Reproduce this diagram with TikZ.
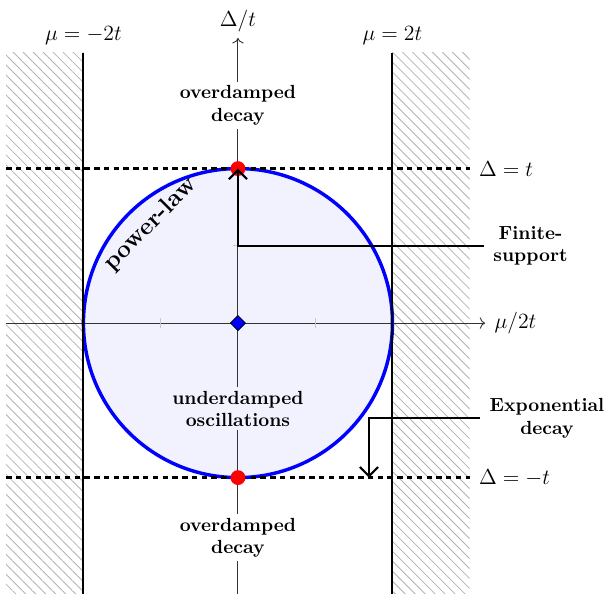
\documentclass[tikz,border=0pt]{standalone}
\usetikzlibrary{patterns.meta,arrows.meta,shapes.geometric}
\begin{document}
\begin{tikzpicture}[x=3cm,y=3cm,
  hatch/.style={pattern={Lines[angle=-45,distance=3.9pt,line width=0.45pt]}, pattern color=gray!60},
  wall/.style={line width=1.1pt},
  level/.style={line width=2pt, dash pattern=on 3pt off 2.4pt},
  axis/.style={black!80, line width=0.5pt, -{To[length=3pt]}},
  tickmark/.style={gray!45, line width=0.7pt},
  regime/.style={font=\fontsize{10.5}{12.5}\selectfont\bfseries, align=center, inner sep=2pt},
  side/.style={font=\fontsize{10.5}{12.5}\selectfont\bfseries, align=center, inner xsep=5pt},
  pointer/.style={line width=1.2pt, -{Straight Barb[length=5pt,width=10pt]}},
  reddot/.style={circle, fill=red, inner sep=0pt, minimum size=8.2pt},
  mathlbl/.style={font=\fontsize{12.4}{15}\selectfont},
]
\useasboundingbox (-1.54,-1.78) rectangle (2.382,2.091);
% hatched forbidden regions
\fill[hatch] (-1.5,-1.75) rectangle (-1,1.75);
\fill[hatch] (1,-1.75) rectangle (1.5,1.75);
% circle fill
\fill[blue!5] (0,0) circle (1);
% axes
\coordinate (xs) at (-1.5,0);
\coordinate (xe) at (1.6,0);
\coordinate (ys) at (0,-1.75);
\coordinate (ye) at (0,1.845);
\draw[axis] (xs) -- (xe);
\draw[axis] (ys) -- (ye);
\node[mathlbl, right, inner sep=5pt] (xl) at (xe) {$\mu/2t$};
\node[mathlbl, above, inner sep=3pt] (yl) at (ye) {$\Delta/t$};
% ticks
\foreach \v in {-0.5,0.5} {
  \draw[tickmark] (\v,-0.03) -- (\v,0.03);
  \draw[tickmark] (-0.03,\v) -- (0.03,\v);
}
% circle outline
\draw[blue, line width=1.9pt] (0,0) circle (1);
% walls
\coordinate (lwt) at (-1,1.75);
\coordinate (lwb) at (-1,-1.75);
\coordinate (rwt) at (1,1.75);
\coordinate (rwb) at (1,-1.75);
\draw[wall] (lwt) -- (lwb);
\draw[wall] (rwt) -- (rwb);
\node[mathlbl, above, inner sep=4pt] (lwl) at (lwt) {$\mu=-2t$};
\node[mathlbl, above, inner sep=4pt] (rwl) at (rwt) {$\mu=2t$};
% levels
\coordinate (t1) at (-1.5,1);
\coordinate (t2) at (1.5,1);
\coordinate (b1) at (-1.5,-1);
\coordinate (b2) at (1.5,-1);
\draw[level] (t1) -- (t2);
\draw[level] (b1) -- (b2);
\node[mathlbl, right, inner sep=5pt] (tl) at (t2) {$\Delta=t$};
\node[mathlbl, right, inner sep=5pt] (bl) at (b2) {$\Delta=-t$};
% regime labels
\node[regime, fill=white] (od1) at (0,1.41) {overdamped\\decay};
\node[regime, fill=white] (od2) at (0,-1.39) {overdamped\\decay};
\node[regime, fill=blue!5] (ud) at (0,-0.555) {underdamped\\oscillations};
\node[font=\fontsize{13.5}{16}\selectfont\bfseries, rotate=45] (pl) at (-0.565,0.64) {power-law};
% points
\node[reddot] (topdot) at (0,1) {};
\node[reddot] (botdot) at (0,-1) {};
\node[diamond, fill=blue, draw=black, line width=0.4pt, inner sep=0pt, minimum size=8.5pt] (orig) at (0,0) {};
% pointers
\node[side] (fin) at (1.893,0.5) {Finite-\\support};
\node[side] (expo) at (2.0,-0.615) {Exponential\\decay};
\coordinate (fc) at (0,0.5);
\coordinate (ec) at (0.848,-1);
\draw[pointer] (fin.west) -- (fc) -- (topdot.center);
\draw[pointer] (expo.west) -| (ec);
\end{tikzpicture}
\end{document}
